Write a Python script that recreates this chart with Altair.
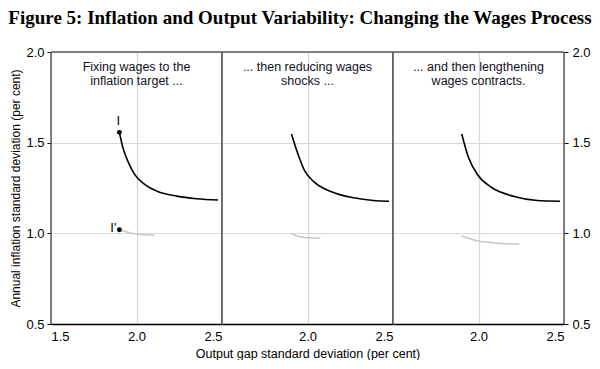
import altair as alt
import pandas as pd

# ---- data ----
panel_notes = [
    "Fixing wages to the\ninflation target ...",
    "... then reducing wages\nshocks ...",
    "... and then lengthening\nwages contracts.",
]

black1_x = [1.900, 1.920, 1.948, 1.987, 2.044, 2.121, 2.236, 2.351, 2.477]
black1_y = [1.557, 1.474, 1.401, 1.328, 1.273, 1.232, 1.205, 1.191, 1.184]
grey1_x = [1.900, 1.987, 2.105]
grey1_y = [1.020, 0.998, 0.989]

black2_x = [1.906, 1.944, 1.983, 2.040, 2.136, 2.270, 2.385, 2.477]
black2_y = [1.548, 1.438, 1.346, 1.282, 1.231, 1.196, 1.181, 1.177]
grey2_x = [1.906, 1.964, 2.075]
grey2_y = [0.998, 0.980, 0.973]

black3_x = [1.902, 1.941, 1.998, 2.075, 2.209, 2.343, 2.477]
black3_y = [1.548, 1.419, 1.319, 1.254, 1.203, 1.181, 1.177]
grey3_x = [1.902, 1.979, 2.094, 2.238]
grey3_y = [0.985, 0.962, 0.947, 0.941]

point_labels = ["I", "I'"]
point_x = [1.900, 1.900]
point_y = [1.557, 1.020]

y_ticks = [0.5, 1.0, 1.5, 2.0]
x_ticks_first = [1.5, 2.0, 2.5]
x_ticks_other = [2.0, 2.5]
x_edges = [1.5, 2.5]
y_top = [2.0]

FONT = "Liberation Sans"
W, H = 171, 272
GRID = "#d8d8d8"
BORDER = "#5a5a5a"


def series_df(xs, ys, name):
    return pd.DataFrame({"x": xs, "y": ys, "series": name})


def make_panel(i, bx, by, gx, gy):
    df = pd.concat([series_df(bx, by, "black"), series_df(gx, gy, "grey")])
    xvals = x_ticks_first if i == 0 else x_ticks_other
    xaxis = alt.Axis(
        values=xvals, format=".1f", grid=True, ticks=False, domain=True,
        domainColor="black", domainWidth=1.3,
        labelPadding=6, labelFontSize=13, labelFont=FONT, labelColor="black",
        title="Output gap standard deviation (per cent)" if i == 1 else None,
        titleFont=FONT, titleFontSize=12.5, titleFontWeight="normal",
        titlePadding=4, titleColor="black",
        gridColor=GRID, gridWidth=1.2,
    )
    if i == 0:
        yaxis = alt.Axis(
            values=y_ticks, format=".1f", orient="left", grid=True,
            tickSize=4, tickColor="black", domain=False,
            labelPadding=3, labelFontSize=13, labelFont=FONT, labelColor="black",
            title="Annual inflation standard deviation (per cent)",
            titleFont=FONT, titleFontSize=12, titleFontWeight="normal",
            titlePadding=3, titleColor="black",
            gridColor=GRID, gridWidth=1.2,
        )
    elif i == 2:
        yaxis = alt.Axis(
            values=y_ticks, format=".1f", orient="right", grid=True,
            tickSize=4, tickColor="black", domain=False,
            labelPadding=4, labelFontSize=13, labelFont=FONT, labelColor="black",
            title=None, gridColor=GRID, gridWidth=1.2,
        )
    else:
        yaxis = alt.Axis(
            values=y_ticks, grid=True, labels=False, ticks=False, domain=False,
            title=None, gridColor=GRID, gridWidth=1.2,
        )

    xs = alt.Scale(domain=[1.5, 2.5], nice=False, zero=False)
    ys = alt.Scale(domain=[0.5, 2.0], nice=False, zero=False)

    lines = alt.Chart(df).mark_line(interpolate="monotone", strokeWidth=1.6).encode(
        x=alt.X("x:Q", scale=xs, axis=xaxis),
        y=alt.Y("y:Q", scale=ys, axis=yaxis),
        color=alt.Color("series:N",
                        scale=alt.Scale(domain=["black", "grey"], range=["black", "#c8c8c8"]),
                        legend=None),
        detail="series:N",
    )

    vborders = alt.Chart(pd.DataFrame({"x": x_edges})).mark_rule(
        color=BORDER, strokeWidth=1.5).encode(x=alt.X("x:Q", scale=xs))
    hborder = alt.Chart(pd.DataFrame({"y": y_top})).mark_rule(
        color=BORDER, strokeWidth=1.5).encode(y=alt.Y("y:Q", scale=ys))

    note = alt.Chart(pd.DataFrame({"t": [panel_notes[i]]})).mark_text(
        lineBreak="\n", font=FONT, fontSize=12.5, baseline="top", align="center",
        lineHeight=14, fill="#111122",
    ).encode(x=alt.value(W / 2), y=alt.value(9), text="t:N")

    layers = [lines, vborders, hborder, note]
    if i == 0:
        pdf = pd.DataFrame({"x": point_x, "y": point_y, "lab": point_labels})
        pts = alt.Chart(pdf).mark_circle(size=24, fill="black", opacity=1).encode(
            x=alt.X("x:Q", scale=xs), y=alt.Y("y:Q", scale=ys))
        lab_i = alt.Chart(pdf[pdf.lab == "I"]).mark_text(
            font=FONT, fontSize=13, baseline="bottom", dy=-4, dx=-1, fill="black").encode(
            x=alt.X("x:Q", scale=xs), y=alt.Y("y:Q", scale=ys), text="lab:N")
        lab_ip = alt.Chart(pdf[pdf.lab == "I'"]).mark_text(
            font=FONT, fontSize=13, align="right", baseline="middle", dx=-3, dy=-2,
            fill="black").encode(
            x=alt.X("x:Q", scale=xs), y=alt.Y("y:Q", scale=ys), text="lab:N")
        layers += [pts, lab_i, lab_ip]

    return alt.layer(*layers).properties(width=W, height=H)


panels = [
    make_panel(0, black1_x, black1_y, grey1_x, grey1_y),
    make_panel(1, black2_x, black2_y, grey2_x, grey2_y),
    make_panel(2, black3_x, black3_y, grey3_x, grey3_y),
]

chart = alt.hconcat(*panels, spacing=0, bounds="flush").properties(
    title=alt.TitleParams(
        "Figure 5: Inflation and Output Variability: Changing the Wages Process",
        font="Liberation Serif", fontSize=19, fontWeight="bold", color="black",
        anchor="middle", offset=18,
    ),
    padding={"left": 0, "top": 0, "right": 0, "bottom": 0},
).configure_view(
    strokeWidth=0, fill="#fdfcfb"
).configure_concat(spacing=0).configure(background="white")

chart.save("out.html", embed_options={"renderer": "svg", "actions": False})
